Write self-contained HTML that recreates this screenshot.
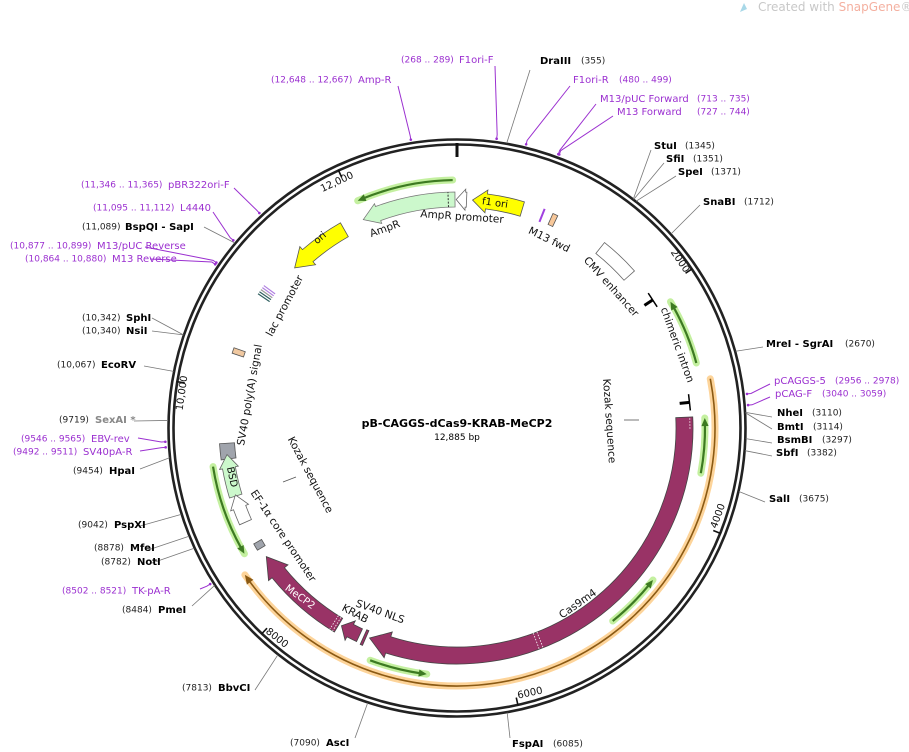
<!DOCTYPE html>
<html><head><meta charset="utf-8">
<style>
html,body{margin:0;padding:0;background:#fff;}
svg{display:block;font-family:"DejaVu Sans","Liberation Sans",sans-serif;}
.e{font-weight:bold;font-size:10px;fill:#000;}
.n{font-size:9px;fill:#222;}
.p{font-size:10px;fill:#9b30d0;}
.pn{font-size:9px;fill:#9b30d0;}
.f{font-size:10.5px;fill:#111;}
</style></head>
<body>
<svg id="s" width="909" height="752" viewBox="0 0 909 752" xmlns="http://www.w3.org/2000/svg">
<g id="g"></g>
<path d="M740 12 L744 3 L747 9 Z" fill="#a8d8e8"/>
<text x="758" y="11" font-size="12" fill="#c8c8c8">Created with <tspan fill="#f4b0a0">SnapGene</tspan>®</text>

<text x="457" y="427" text-anchor="middle" font-weight="bold" font-size="11">pB-CAGGS-dCas9-KRAB-MeCP2</text>
<text x="457" y="440" text-anchor="middle" font-size="9">12,885 bp</text>

<g font-size="10" fill="#111" text-anchor="middle" dominant-baseline="middle">
<text transform="translate(337,182) rotate(-25)">12,000</text>
<text transform="translate(680,261) rotate(56)">2000</text>
<text transform="translate(718,516) rotate(-70)">4000</text>
<text transform="translate(530,693) rotate(-12)">6000</text>
<text transform="translate(277,638) rotate(38)">8000</text>
<text transform="translate(182,393) rotate(-82)">10,000</text>
</g>

<g class="f" text-anchor="middle" dominant-baseline="middle" font-size="11">
<text transform="translate(495,203) rotate(8)" font-size="10">f1 ori</text>
<text transform="translate(462,217) rotate(4)">AmpR promoter</text>
<text transform="translate(385,229) rotate(-20)">AmpR</text>
<text transform="translate(320,238) rotate(-40)" font-size="10">ori</text>
<text transform="translate(285,306) rotate(-62)">lac promoter</text>
<text transform="translate(250,395) rotate(-80)">SV40 poly(A) signal</text>
<text transform="translate(549,240) rotate(26)">M13 fwd</text>
<text transform="translate(611,287) rotate(48)">CMV enhancer</text>
<text transform="translate(677,345) rotate(70)">chimeric intron</text>
<text transform="translate(609,421) rotate(86)">Kozak sequence</text>
<text transform="translate(310,475) rotate(62)">Kozak sequence</text>
<text transform="translate(232,477) rotate(78)" font-size="10">BSD</text>
<text transform="translate(283,536) rotate(56)">EF-1α core promoter</text>
<text transform="translate(300,597) rotate(36)" fill="#fff" font-size="10">MeCP2</text>
<text transform="translate(355,614) rotate(28)">KRAB</text>
<text transform="translate(380,612) rotate(20)">SV40 NLS</text>
<text transform="translate(578,604) rotate(-35)">Cas9m4</text>
</g>
<line x1="283" y1="482" x2="296" y2="477" stroke="#555" stroke-width="0.8"/>
<line x1="624" y1="420" x2="639" y2="420" stroke="#555" stroke-width="0.8"/>

<g dominant-baseline="middle">
<text class="e" x="540" y="61">DraIII</text><text class="n" x="581" y="61">(355)</text>
<text class="pn" x="401" y="60">(268 .. 289)</text><text class="p" x="459" y="60">F1ori-F</text>
<text class="pn" x="271" y="80">(12,648 .. 12,667)</text><text class="p" x="358" y="80">Amp-R</text>
<text class="p" x="573" y="80">F1ori-R</text><text class="pn" x="619" y="80">(480 .. 499)</text>
<text class="p" x="600" y="99">M13/pUC Forward</text><text class="pn" x="697" y="99">(713 .. 735)</text>
<text class="p" x="617" y="112">M13 Forward</text><text class="pn" x="697" y="112">(727 .. 744)</text>
<text class="e" x="654" y="146">StuI</text><text class="n" x="685" y="146">(1345)</text>
<text class="e" x="666" y="159">SfiI</text><text class="n" x="693" y="159">(1351)</text>
<text class="e" x="678" y="172">SpeI</text><text class="n" x="711" y="172">(1371)</text>
<text class="e" x="703" y="202">SnaBI</text><text class="n" x="744" y="202">(1712)</text>
<text class="e" x="766" y="344">MreI  - SgrAI</text><text class="n" x="845" y="344">(2670)</text>
<text class="p" x="774" y="381">pCAGGS-5</text><text class="pn" x="835" y="381">(2956 .. 2978)</text>
<text class="p" x="775" y="394">pCAG-F</text><text class="pn" x="822" y="394">(3040 .. 3059)</text>
<text class="e" x="777" y="413">NheI</text><text class="n" x="812" y="413">(3110)</text>
<text class="e" x="777" y="427">BmtI</text><text class="n" x="813" y="427">(3114)</text>
<text class="e" x="777" y="440">BsmBI</text><text class="n" x="822" y="440">(3297)</text>
<text class="e" x="776" y="453">SbfI</text><text class="n" x="807" y="453">(3382)</text>
<text class="e" x="769" y="499">SalI</text><text class="n" x="799" y="499">(3675)</text>
<text class="e" x="512" y="744">FspAI</text><text class="n" x="553" y="744">(6085)</text>
<text class="n" x="290" y="743">(7090)</text><text class="e" x="326" y="743">AscI</text>
<text class="n" x="182" y="688">(7813)</text><text class="e" x="218" y="688">BbvCI</text>
<text class="n" x="122" y="610">(8484)</text><text class="e" x="158" y="610">PmeI</text>
<text class="pn" x="62" y="591">(8502 .. 8521)</text><text class="p" x="132" y="591">TK-pA-R</text>
<text class="n" x="101" y="562">(8782)</text><text class="e" x="137" y="562">NotI</text>
<text class="n" x="94" y="548">(8878)</text><text class="e" x="130" y="548">MfeI</text>
<text class="n" x="78" y="525">(9042)</text><text class="e" x="114" y="525">PspXI</text>
<text class="n" x="73" y="471">(9454)</text><text class="e" x="109" y="471">HpaI</text>
<text class="pn" x="13" y="452">(9492 .. 9511)</text><text class="p" x="83" y="452">SV40pA-R</text>
<text class="pn" x="21" y="439">(9546 .. 9565)</text><text class="p" x="91" y="439">EBV-rev</text>
<text class="n" x="59" y="420">(9719)</text><text class="e" x="95" y="420" style="fill:#888">SexAI *</text>
<text class="n" x="57" y="365">(10,067)</text><text class="e" x="101" y="365">EcoRV</text>
<text class="n" x="82" y="318">(10,342)</text><text class="e" x="126" y="318">SphI</text>
<text class="n" x="82" y="331">(10,340)</text><text class="e" x="126" y="331">NsiI</text>
<text class="pn" x="10" y="246">(10,877 .. 10,899)</text><text class="p" x="97" y="246">M13/pUC Reverse</text>
<text class="pn" x="25" y="259">(10,864 .. 10,880)</text><text class="p" x="112" y="259">M13 Reverse</text>
<text class="n" x="82" y="227">(11,089)</text><text class="e" x="125" y="227">BspQI  - SapI</text>
<text class="pn" x="93" y="208">(11,095 .. 11,112)</text><text class="p" x="180" y="208">L4440</text>
<text class="pn" x="81" y="185">(11,346 .. 11,365)</text><text class="p" x="168" y="185">pBR322ori-F</text>
</g>
</svg>
<script>
(function(){
var C=[457,428],NS="http://www.w3.org/2000/svg",G=document.getElementById('g');
function P(r,a){a=a*Math.PI/180;return [C[0]+r*Math.sin(a),C[1]-r*Math.cos(a)];}
function s(p){return p[0].toFixed(2)+","+p[1].toFixed(2);}
function el(t,at){var e=document.createElementNS(NS,t);for(var k in at)e.setAttribute(k,at[k]);G.appendChild(e);return e;}
function arcD(r,a0,a1){var l=Math.abs(a1-a0)>180?1:0,sw=a1>a0?1:0;return "M"+s(P(r,a0))+" A"+r+","+r+" 0 "+l+" "+sw+" "+s(P(r,a1));}
function arcTo(r,a0,a1){var l=Math.abs(a1-a0)>180?1:0,sw=a1>a0?1:0;return " A"+r+","+r+" 0 "+l+" "+sw+" "+s(P(r,a1));}
function band(ri,ro,a0,a1,h,he,fill,stroke){
 var d=a1>a0?1:-1,ah=h?a1-d*h:a1;
 var p="M"+s(P(ro,a0))+arcTo(ro,a0,ah);
 if(h){p+=" L"+s(P(ro+he,ah))+" L"+s(P((ri+ro)/2,a1))+" L"+s(P(ri-he,ah))+" L"+s(P(ri,ah));}
 else p+=" L"+s(P(ri,a1));
 p+=arcTo(ri,ah,a0)+" Z";
 el('path',{d:p,fill:fill,stroke:stroke||'#555','stroke-width':0.8,'stroke-linejoin':'miter'});
}
function head(r,a,dir,col,sz){var d=dir,b=a-d*(sz/r*180/Math.PI);
 el('path',{d:"M"+s(P(r,a))+" L"+s(P(r+sz*0.45,b))+" L"+s(P(r-sz*0.45,b))+" Z",fill:col});}
function line(r,a0,a1,glow,core,gw,cw,hd){
 var tip=a1, d=a1>a0?1:-1;
 el('path',{d:arcD(r,a0,a1),fill:'none',stroke:glow,'stroke-width':gw,'stroke-linecap':'round'});
 var endc=a1-d*(6/r*180/Math.PI);
 el('path',{d:arcD(r,a0,endc),fill:'none',stroke:core,'stroke-width':cw});
 head(r,tip,d,core,hd);
}
el('circle',{cx:C[0],cy:C[1],r:288.5,fill:'none',stroke:'#222','stroke-width':2.6});
el('circle',{cx:C[0],cy:C[1],r:283.5,fill:'none',stroke:'#222','stroke-width':2.6});
[[335.3],[55.9],[111.8],[167.6],[223.5],[279.4]].forEach(function(t){el('line',{x1:P(276,t[0])[0],y1:P(276,t[0])[1],x2:P(284,t[0])[0],y2:P(284,t[0])[1],stroke:'#111','stroke-width':1.6});});
el('line',{x1:457,y1:143,x2:457,y2:157,stroke:'#111','stroke-width':3});
var enz=[[9.9,530,70],[37.6,651,150],[37.7,664,163],[38.3,676,176],[47.8,700,205],[74.6,763,347],
[86.9,772,417],[87.0,772,429],[92.1,772,443],[94.5,772,456],[102.7,765,502],[170,510,738],[198,355,738],
[218.3,255,690],[237,192,606],[245.4,152,563],[248,148,550],[252.6,140,526],[264.1,140,469],[271.5,134,421],
[281.3,144,366],[288.8,152,318],[288.8,152,331],[309.8,204,227]];
enz.forEach(function(e){var p=P(289,e[0]);el('line',{x1:p[0],y1:p[1],x2:e[1],y2:e[2],stroke:'#777','stroke-width':0.8});});
var pr=[[350.9,398,86],[7.8,495,66],[13.7,570,86],[20.3,596,104],[20.5,613,116],[83.3,770,384],[85.5,770,397],
[237.7,200,589],[266.2,140,451],[267.3,138,438],[304.1,150,259],[304.5,145,247],[310,213,212],[317.4,234,188]];
pr.forEach(function(e){var p=P(292,e[0]),q=P(296,e[0]);el('path',{d:"M"+e[1]+","+e[2]+" L"+s(q)+" L"+s(p),fill:'none',stroke:'#9b30d0','stroke-width':1});
 el('circle',{cx:p[0],cy:p[1],r:1.3,fill:'#9b30d0'});});
line(258,79,235.3,'#fdd49a','#8b5a14',7,1.6,9);
line(248,-1,-23.6,'#c4f0a0','#3d7a22',7,2.2,8);
line(248,74.8,59.4,'#c4f0a0','#3d7a22',7,2.2,8);
line(248,100.5,87.7,'#c4f0a0','#3d7a22',7,2.2,8);
line(248,141.1,127.8,'#c4f0a0','#3d7a22',7,2.2,8);
line(248,200.5,187,'#c4f0a0','#3d7a22',7,2.2,8);
line(247,261,239.4,'#c4f0a0','#3d7a22',7,2.2,8);
band(221,236,2.4,-0.2,2.3,3,'#fff','#666');
band(221,236,-0.5,-24.2,4,3,'#ccf8cc','#777');
var d1=P(221,-2.2),d2=P(236,-2.2);el('line',{x1:d1[0],y1:d1[1],x2:d2[0],y2:d2[1],stroke:'#333','stroke-width':1,'stroke-dasharray':'2,1.5'});
band(221,236,16.6,3.9,3.5,4,'#ffff00','#555');
band(220,236,-29.6,-45.4,4.5,4,'#ffff00','#555');
band(223,237,38.5,48.5,0,0,'#fff','#666');
band(223,235,24.1,25.4,0,0,'#f8c89a','#555');
var m1=P(222,21.8),m2=P(236,21.8);el('line',{x1:m1[0],y1:m1[1],x2:m2[0],y2:m2[1],stroke:'#a040e0','stroke-width':2});
band(225,237,-70.2,-71.6,0,0,'#f0c8a0','#555');
for(var i=0;i<5;i++){var a=-56+i*0.6;var q1=P(226,a),q2=P(240,a);el('line',{x1:q1[0],y1:q1[1],x2:q2[0],y2:q2[1],stroke:['#2f5f5f','#2f5f5f','#999','#b080e0','#b080e0'][i],'stroke-width':1.2});}
[[56.8,228],[83.7,228]].forEach(function(t){var a=P(t[1]-4,t[0]),b=P(t[1]+6,t[0]);el('line',{x1:a[0],y1:a[1],x2:b[0],y2:b[1],stroke:'#000','stroke-width':3});
 var c=P(t[1]+6,t[0]-2),dd=P(t[1]+6,t[0]+2);el('line',{x1:c[0],y1:c[1],x2:dd[0],y2:dd[1],stroke:'#000','stroke-width':1.5});});
band(223,238,262.3,266.2,0,0,'#a0a4ac','#555');
band(225,238,252.9,263.4,3.3,3,'#ccf8cc','#666');
band(225,238,246,253.2,3.3,3,'#fff','#666');
band(225,234,238.5,240.3,0,0,'#a0a4ac','#555');
band(222,238,211,236,5,4.5,'#993366','#444');
[211.5,212.3].forEach(function(a){var q1=P(222,a),q2=P(238,a);el('line',{x1:q1[0],y1:q1[1],x2:q2[0],y2:q2[1],stroke:'#fff','stroke-width':0.8,'stroke-dasharray':'1.5,1.5'});});
band(222,236,205.2,210.3,2.5,4,'#993366','#444');
band(221,237,203.5,204.1,0,0,'#993366','#444');
band(219,236,87.3,202.6,5,5,'#993366','#444');
[158.6,159.6].forEach(function(a){var q1=P(219,a),q2=P(236,a);el('line',{x1:q1[0],y1:q1[1],x2:q2[0],y2:q2[1],stroke:'#fff','stroke-width':0.8,'stroke-dasharray':'1.5,1.5'});});
var t1=P(233,87.6),t2=P(233,90.5);el('line',{x1:t1[0],y1:t1[1],x2:t2[0],y2:t2[1],stroke:'#fff','stroke-width':0.8,'stroke-dasharray':'1.5,1.5'});
})();
</script>
</body></html>
